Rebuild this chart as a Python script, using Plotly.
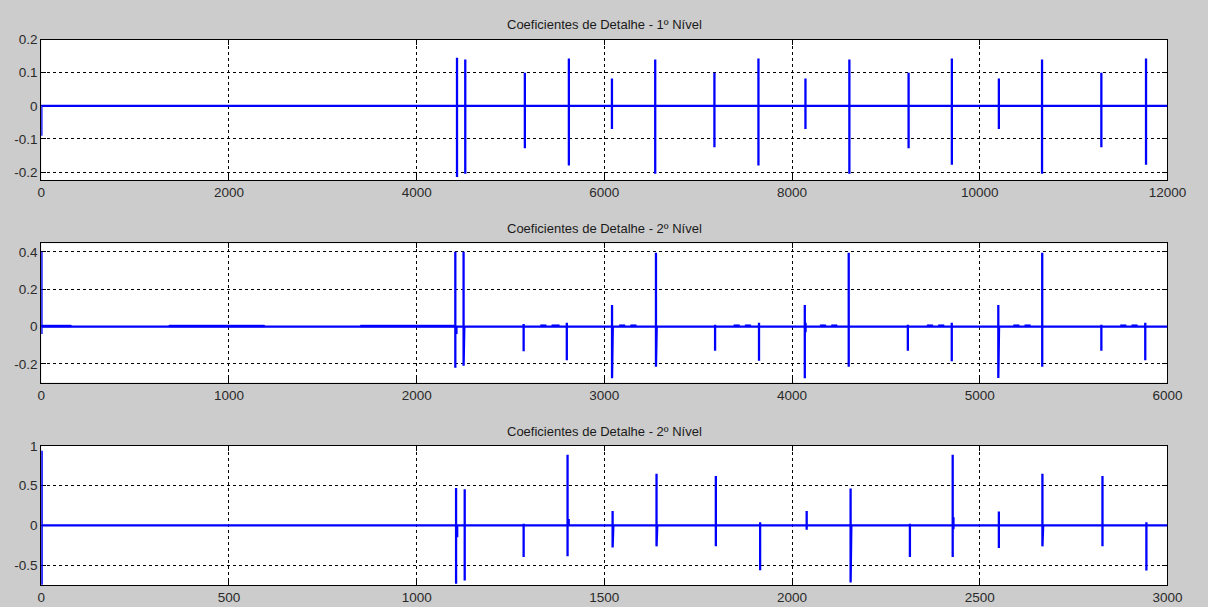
import plotly.graph_objects as go

# ---------------- data ----------------
# Panel 1 : Coeficientes de Detalhe - 1º Nível  (x 0..12000)
p1_x   = [1, 4430, 4518, 5153, 5622, 6081, 6542, 7173, 7642, 8143, 8611, 9242, 9703,
          10204, 10664, 11296, 11772]
p1_top = [0.0, 0.145, 0.140, 0.100, 0.143, 0.083, 0.140, 0.100, 0.143, 0.083, 0.140,
          0.100, 0.143, 0.083, 0.140, 0.100, 0.143]
p1_bot = [-0.09, -0.215, -0.205, -0.128, -0.180, -0.070, -0.205, -0.125, -0.180, -0.070,
          -0.205, -0.128, -0.178, -0.070, -0.205, -0.125, -0.178]
p1_len = 12000

# Panel 2 : Coeficientes de Detalhe - 2º Nível  (x 0..6000)
p2_x   = [1, 2206, 2212, 2250, 2254, 2570, 2800, 3041, 3045, 3275, 3279, 3590, 3824,
          4068, 4072, 4302, 4617, 4851, 5099, 5103, 5333, 5648, 5882]
p2_top = [0.40, 0.40, 0.0, 0.40, 0.115, 0.014, 0.020, 0.115, 0.02, 0.395, 0.115, 0.010,
          0.020, 0.115, 0.02, 0.395, 0.010, 0.020, 0.115, 0.02, 0.395, 0.010, 0.020]
p2_bot = [-0.04, -0.22, -0.04, -0.21, -0.02, -0.132, -0.180, -0.277, -0.03, -0.215,
          -0.05, -0.130, -0.183, -0.277, -0.03, -0.215, -0.130, -0.185, -0.275, -0.03,
          -0.215, -0.130, -0.180]
p2_len = 6000
# low-level ripple stretches on the level-2 baseline: start, end, upper, lower
rip_start = [0, 680, 1700, 2660, 2720, 3080, 3140, 3690, 3750, 4150, 4210, 4720, 4780,
             5180, 5240, 5750, 5810]
rip_end   = [160, 1190, 2200, 2690, 2760, 3110, 3170, 3720, 3780, 4180, 4240, 4750, 4810,
             5210, 5270, 5780, 5840]
rip_up    = [0.008, 0.008, 0.008, 0.010, 0.010, 0.010, 0.010, 0.010, 0.010, 0.010, 0.010,
             0.010, 0.010, 0.010, 0.010, 0.010, 0.010]
rip_dn    = [-0.002, -0.002, -0.002, 0.0, 0.0, 0.0, 0.0, 0.0, 0.0, 0.0, 0.0, 0.0, 0.0,
             0.0, 0.0, 0.0, 0.0]

# Panel 3 : Coeficientes de Detalhe - 2º Nível  (x 0..3000)
p3_x   = [1, 1105, 1108, 1128, 1285, 1402, 1405, 1522, 1524, 1639, 1641, 1797, 1915,
          2039, 2156, 2158, 2314, 2428, 2430, 2551, 2667, 2669, 2827, 2944]
p3_top = [0.94, 0.47, 0.0, 0.455, 0.02, 0.89, 0.08, 0.18, 0.05, 0.65, 0.15, 0.62, 0.04,
          0.18, 0.465, 0.0, 0.02, 0.89, 0.10, 0.175, 0.65, 0.15, 0.62, 0.04]
p3_bot = [-0.75, -0.735, -0.15, -0.695, -0.40, -0.39, 0.0, -0.28, -0.05, -0.265, -0.05,
          -0.265, -0.565, -0.055, -0.72, -0.10, -0.40, -0.40, -0.05, -0.285, -0.265,
          -0.05, -0.265, -0.57]
p3_len = 3000

titles = ["Coeficientes de Detalhe - 1º Nível",
          "Coeficientes de Detalhe - 2º Nível",
          "Coeficientes de Detalhe - 2º Nível"]
x_ticks = [[0, 2000, 4000, 6000, 8000, 10000, 12000],
           [0, 1000, 2000, 3000, 4000, 5000, 6000],
           [0, 500, 1000, 1500, 2000, 2500, 3000]]
y_ticks = [[-0.2, -0.1, 0, 0.1, 0.2],
           [-0.2, 0, 0.2, 0.4],
           [-0.5, 0, 0.5, 1]]
y_tick_text = [["-0.2", "-0.1", "0", "0.1", "0.2"],
               ["-0.2", "0", "0.2", "0.4"],
               ["-0.5", "0", "0.5", "1"]]
y_ranges = [[-0.224, 0.2001], [-0.30, 0.446], [-0.755, 1.0005]]

# ---------------- build ----------------
BLUE = "#0000ff"
FONT = "Liberation Sans, Arial, sans-serif"


def spike_series(xs, tops, bots, length):
    X, Y = [0], [0]
    for x, t, b in sorted(zip(xs, tops, bots)):
        X += [x, x, x, x]
        Y += [0, t, b, 0]
    X.append(length)
    Y.append(0)
    return X, Y


fig = go.Figure()
W, H = 1208, 607
left, right = 38, 1186
panels_px = [(33, 175), (239, 380), (444, 585)]
series = [(p1_x, p1_top, p1_bot, p1_len),
          (p2_x, p2_top, p2_bot, p2_len),
          (p3_x, p3_top, p3_bot, p3_len)]

for i, (xs, ts, bs, L) in enumerate(series):
    n = "" if i == 0 else str(i + 1)
    X, Y = spike_series(xs, ts, bs, L)
    if i == 1:
        for s, e, u, d in zip(rip_start, rip_end, rip_up, rip_dn):
            fig.add_trace(go.Scatter(x=[s, e, e, s, s], y=[d, d, u, u, d], mode="lines",
                                     fill="toself", fillcolor=BLUE,
                                     line=dict(color=BLUE, width=0.5),
                                     xaxis="x" + n, yaxis="y" + n, showlegend=False,
                                     hoverinfo="skip"))
    fig.add_trace(go.Scatter(x=X, y=Y, mode="lines", line=dict(color=BLUE, width=2.3),
                             xaxis="x" + n, yaxis="y" + n, showlegend=False))
    top, bot = panels_px[i]
    ydom = [(H - bot) / H, (H - top) / H]
    common = dict(showline=True, linecolor="#000000", linewidth=1, mirror="ticks",
                  ticks="inside", ticklen=5, tickcolor="#000000",
                  showgrid=True, gridcolor="#000000", gridwidth=1, griddash="dot",
                  zeroline=False, layer="below traces",
                  tickfont=dict(family=FONT, size=13.5, color="#2a2a2a"))
    fig.update_layout(**{
        "xaxis" + n: dict(domain=[left / W, right / W], range=[0, L], anchor="y" + n,
                          tickvals=x_ticks[i], ticktext=[str(v) for v in x_ticks[i]],
                          **common),
        "yaxis" + n: dict(domain=ydom, range=y_ranges[i], anchor="x" + n,
                          tickvals=y_ticks[i], ticktext=y_tick_text[i], **common),
    })
    fig.add_annotation(text=titles[i], xref="paper", yref="paper",
                       x=(left + right) / 2 / W, y=(H - (top - 15)) / H,
                       xanchor="center", yanchor="middle", showarrow=False,
                       font=dict(family=FONT, size=13, color="#1a1a1a"))

fig.update_layout(width=W, height=H, margin=dict(l=0, r=0, t=0, b=0),
                  paper_bgcolor="#cccccc", plot_bgcolor="#ffffff")

fig.write_html("out.html")
